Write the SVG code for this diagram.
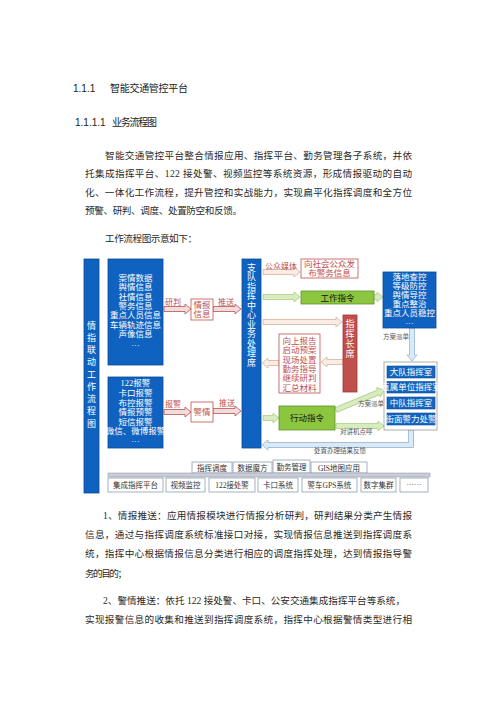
<svg xmlns="http://www.w3.org/2000/svg" width="496" height="702" viewBox="0 0 496 702">
<style>
text{font-family:"Liberation Serif","Noto Sans CJK SC",serif}
.h{font-family:"Liberation Sans","Noto Sans CJK SC",sans-serif;font-size:10px;fill:#222}
.p{font-size:9.6px;fill:#2a2a2a}
.w{fill:#fff;font-size:8.5px;text-anchor:middle}
.wv{fill:#fff;font-size:9px;text-anchor:middle}
.r{fill:#c0504d;font-size:8px}
.rc{fill:#c0504d;font-size:8.5px;text-anchor:middle}
.k{fill:#111;font-size:8.5px;text-anchor:middle}
.blue{fill:#0f62c0;stroke:#0b4a94;stroke-width:.8}
.ib{fill:#1565c0;stroke:#0b4a94;stroke-width:.6}
.redbox{fill:#fff;stroke:#c0504d;stroke-width:.8}
.green{fill:#8cc63f;stroke:#5f8f2a;stroke-width:.8}
.aR{fill:#f2dcdb;stroke:#b5524f;stroke-width:.8}
.aT{fill:#f8ece4;stroke:#d9b39c;stroke-width:.8}
.aG{fill:#d8ebc2;stroke:#a9d07c;stroke-width:.8}
.aB{fill:#dbe9f4;stroke:#8fb4d4;stroke-width:.8}
.s{font-size:6.5px;fill:#555}
.tab{fill:#fff;stroke:#7f8fa6;stroke-width:.7}
.tt{font-size:7.5px;fill:#333;text-anchor:middle}
</style>
<rect width="496" height="702" fill="#fff"/>

<g id="text-top">
<text class="h" x="73" y="92">1.1.1</text>
<text class="h" x="110" y="92" textLength="78">智能交通管控平台</text>
<text class="h" x="75" y="126">1.1.1.1</text>
<text class="h" x="112" y="126" textLength="45" font-size="9.5">业务流程图</text>
<text class="p" x="105" y="159" textLength="307">智能交通管控平台整合情报应用、指挥平台、勤务管理各子系统，并依</text>
<text class="p" x="85" y="177" textLength="327">托集成指挥平台、122 接处警、视频监控等系统资源，形成情报驱动的自动</text>
<text class="p" x="85" y="196" textLength="327">化、一体化工作流程，提升管控和实战能力，实现扁平化指挥调度和全方位</text>
<text class="p" x="85" y="214" textLength="157">预警、研判、调度、处置防空和反馈。</text>
<text class="p" x="105" y="242" textLength="92">工作流程图示意如下：</text>
</g>

<g id="connectors">
<polygon class="aR" points="164,306.5 185,306.5 185,304 191,309 185,314 185,311.5 164,311.5"/>
<polygon class="aR" points="213,306.5 235,306.5 235,304 241,309 235,314 235,311.5 213,311.5"/>
<polygon class="aR" points="164,409.5 185,409.5 185,407 191,412 185,417 185,414.5 164,414.5"/>
<polygon class="aR" points="213,408.5 235,408.5 235,406 241,411 235,416 235,413.5 213,413.5"/>
<polygon class="aT" points="263,269.5 294,269.5 294,267 300,272 294,277 294,274.5 263,274.5"/>
<polygon class="aG" points="263,294.5 294,294.5 294,292 300,297 294,302 294,299.5 263,299.5"/>
<polygon class="aG" points="374,294.5 377,294.5 377,292 383,297 377,302 377,299.5 374,299.5"/>
<polygon class="aT" points="263,319.5 336,319.5 336,317 342,322 336,327 336,324.5 263,324.5"/>
<polygon class="aT" points="343,359.5 327,359.5 327,357 321,362 327,367 327,364.5 343,364.5"/>
<polygon class="aT" points="279,360.5 268,360.5 268,358 262,363 268,368 268,365.5 279,365.5"/>
<polygon class="aG" points="263,415.5 273,415.5 273,413 279,418 273,423 273,420.5 263,420.5"/>
<polygon class="aG" transform="translate(336,410) rotate(-22.6)" points="0,-2.5 46,-2.5 46,-5 52,0 46,5 46,2.5 0,2.5"/>
<polygon class="aG" points="336,423.5 378,423.5 378,421 384,426 378,431 378,428.5 336,428.5"/>
<polygon class="aB" points="409.5,328 414.5,328 414.5,355 417,355 412,361 407,355 409.5,355"/>
<polygon class="aB" points="413.5,430 413.5,447.5 268,447.5 268,450 262,445 268,440 268,442.5 408.5,442.5 408.5,430"/>
<text class="r" x="165" y="305">研判</text>
<text class="r" x="218" y="305">推送</text>
<text class="r" x="165" y="407">报警</text>
<text class="r" x="219" y="406">推送</text>
<text class="r" x="265" y="269">公众媒体</text>
<text class="s" x="383" y="339">方案派单</text>
<text class="s" x="358" y="406">方案派单</text>
<text class="s" x="340" y="434">对讲机点呼</text>
<text class="s" x="340" y="453" text-anchor="middle">处置办理结果反馈</text>
</g>

<g id="node-left-bar">
<rect class="blue" x="84" y="259" width="15" height="234"/>
<text class="wv" x="91.5" y="328.5">情</text>
<text class="wv" x="91.5" y="340.8">指</text>
<text class="wv" x="91.5" y="353">联</text>
<text class="wv" x="91.5" y="365.3">动</text>
<text class="wv" x="91.5" y="377.5">工</text>
<text class="wv" x="91.5" y="389.8">作</text>
<text class="wv" x="91.5" y="402">流</text>
<text class="wv" x="91.5" y="414.3">程</text>
<text class="wv" x="91.5" y="426.5">图</text>
</g>

<g id="node-info-sources">
<rect class="blue" x="108" y="259" width="55" height="106"/>
<text class="w" x="135.5" y="281">案情数据</text>
<text class="w" x="135.5" y="290.3">舆情信息</text>
<text class="w" x="135.5" y="299.7">社情信息</text>
<text class="w" x="135.5" y="309">警务信息</text>
<text class="w" x="135.5" y="318.3">重点人员信息</text>
<text class="w" x="135.5" y="327.7">车辆轨迹信息</text>
<text class="w" x="135.5" y="337">声像信息</text>
<text class="w" x="135.5" y="348">···</text>
</g>

<g id="node-alarm-sources">
<rect class="blue" x="108" y="377" width="55" height="71"/>
<text class="w" x="135.5" y="386">122报警</text>
<text class="w" x="135.5" y="396">卡口报警</text>
<text class="w" x="135.5" y="406">布控报警</text>
<text class="w" x="135.5" y="415">情报预警</text>
<text class="w" x="135.5" y="425">短信报警</text>
<text class="w" x="135.5" y="434" font-size="6.5">微信、微博报警</text>
<text class="w" x="135.5" y="444">···</text>
</g>

<g id="node-intel">
<rect class="redbox" x="191" y="299" width="22" height="21"/>
<text class="rc" x="202" y="308">情报</text>
<text class="rc" x="202" y="317">信息</text>
</g>

<g id="node-alarm">
<rect class="redbox" x="191" y="402" width="22" height="20"/>
<text class="rc" x="202" y="415">警情</text>
</g>

<g id="node-center">
<rect class="blue" x="242" y="259" width="19" height="189"/>
<text class="wv" x="251.5" y="270.5">支</text>
<text class="wv" x="251.5" y="280">队</text>
<text class="wv" x="251.5" y="289.5">指</text>
<text class="wv" x="251.5" y="299">挥</text>
<text class="wv" x="251.5" y="308.5">中</text>
<text class="wv" x="251.5" y="318">心</text>
<text class="wv" x="251.5" y="327.5">业</text>
<text class="wv" x="251.5" y="337">务</text>
<text class="wv" x="251.5" y="346.5">处</text>
<text class="wv" x="251.5" y="356">理</text>
<text class="wv" x="251.5" y="365.5">席</text>
</g>

<g id="node-publish">
<rect class="redbox" x="301" y="259" width="57" height="19"/>
<text class="rc" x="329.5" y="267">向社会公众发</text>
<text class="rc" x="329.5" y="276">布警务信息</text>
</g>

<g id="node-work-order">
<rect class="green" x="301" y="291" width="73" height="13"/>
<text class="k" x="337.5" y="300.5">工作指令</text>
</g>

<g id="node-control">
<rect class="blue" x="383" y="272" width="53" height="56"/>
<text class="w" x="409.5" y="280" font-size="8">落地查控</text>
<text class="w" x="409.5" y="289" font-size="8">等级防控</text>
<text class="w" x="409.5" y="298" font-size="8">舆情导控</text>
<text class="w" x="409.5" y="307" font-size="8">重点整治</text>
<text class="w" x="409.5" y="316" font-size="8">重点人员稳控</text>
<text class="w" x="409.5" y="326">···</text>
</g>

<g id="node-commander">
<rect x="343" y="315" width="14" height="77" fill="#c0504d" stroke="#9c3a37" stroke-width=".8"/>
<text class="wv" x="350" y="326.5">指</text>
<text class="wv" x="350" y="336.5">挥</text>
<text class="wv" x="350" y="346.5">长</text>
<text class="wv" x="350" y="356.5">席</text>
</g>

<g id="node-report">
<rect class="redbox" x="279" y="334" width="41" height="59"/>
<text class="rc" x="299.5" y="344">向上报告</text>
<text class="rc" x="299.5" y="353.3">启动预案</text>
<text class="rc" x="299.5" y="362.6">现场处置</text>
<text class="rc" x="299.5" y="371.9">勤务指导</text>
<text class="rc" x="299.5" y="381.2">继续研判</text>
<text class="rc" x="299.5" y="390.5">汇总材料</text>
</g>

<g id="node-action-order">
<rect class="green" x="279" y="406" width="56" height="24"/>
<text class="k" x="307" y="421">行动指令</text>
</g>

<g id="node-units">
<rect x="384" y="362" width="53" height="68" fill="#fff" stroke="#999" stroke-width=".8"/>
<rect class="ib" x="387" y="366" width="48" height="12"/>
<text class="w" x="411" y="375" font-size="8">大队指挥室</text>
<rect class="ib" x="387" y="381.5" width="48" height="11.5"/>
<text class="w" x="411" y="390" font-size="6">直属单位指挥室</text>
<rect class="ib" x="387" y="397" width="48" height="12"/>
<text class="w" x="411" y="406" font-size="8">中队指挥室</text>
<rect class="ib" x="387" y="413" width="48" height="12"/>
<text class="w" x="411" y="422" font-size="7.5">街面警力处警</text>
</g>

<g id="node-apps">
<rect class="tab" x="192" y="462" width="40" height="11"/>
<text class="tt" x="212" y="470.5">指挥调度</text>
<rect class="tab" x="233" y="462" width="39" height="11"/>
<text class="tt" x="252.5" y="470.5">数据魔方</text>
<rect class="tab" x="273" y="460" width="37" height="13"/>
<text class="tt" x="291.5" y="469.5">勤务管理</text>
<rect class="tab" x="311" y="462" width="56" height="11"/>
<text class="tt" x="339" y="470.5">GIS地图应用</text>
</g>

<g id="node-systems">
<rect x="108" y="473" width="322" height="4" fill="#c9cdd5" stroke="#8a94a6" stroke-width=".5"/>
<rect class="tab" x="108" y="478" width="55" height="14"/>
<text class="tt" x="135.5" y="488">集成指挥平台</text>
<rect class="tab" x="166" y="478" width="39" height="14"/>
<text class="tt" x="185.5" y="488">视频监控</text>
<rect class="tab" x="209" y="478" width="46" height="14"/>
<text class="tt" x="232" y="488">122接处警</text>
<rect class="tab" x="258" y="478" width="40" height="14"/>
<text class="tt" x="278" y="488">卡口系统</text>
<rect class="tab" x="302" y="478" width="55" height="14"/>
<text class="tt" x="329.5" y="488">警车GPS系统</text>
<rect class="tab" x="361" y="478" width="35" height="14"/>
<text class="tt" x="378.5" y="488">数字集群</text>
<rect class="tab" x="400" y="478" width="28" height="14"/>
<text class="tt" x="414" y="487">······</text>
</g>

<g id="text-bottom">
<text class="p" x="103" y="519" textLength="309">1、情报推送：应用情报模块进行情报分析研判，研判结果分类产生情报</text>
<text class="p" x="85" y="538" textLength="327">信息，通过与指挥调度系统标准接口对接，实现情报信息推送到指挥调度系</text>
<text class="p" x="85" y="557" textLength="327">统，指挥中心根据情报信息分类进行相应的调度指挥处理，达到情报指导警</text>
<text class="p" x="85" y="577" textLength="42">务的目的；</text>
<text class="p" x="103" y="604" textLength="302">2、警情推送：依托 122 接处警、卡口、公安交通集成指挥平台等系统，</text>
<text class="p" x="85" y="623" textLength="327">实现报警信息的收集和推送到指挥调度系统，指挥中心根据警情类型进行相</text>
</g>
</svg>
